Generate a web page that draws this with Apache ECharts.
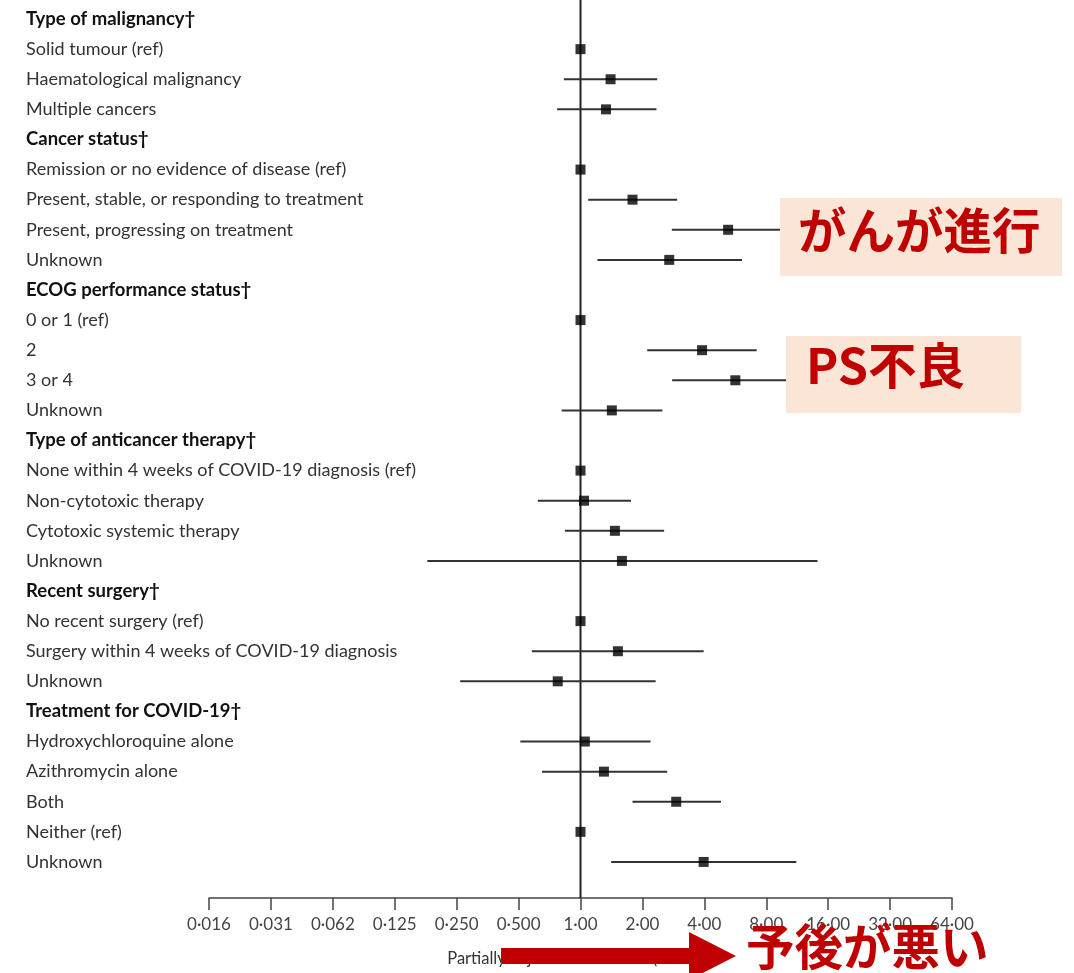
<!DOCTYPE html>
<html>
<head>
<meta charset="utf-8">
<script src="https://cdn.jsdelivr.net/npm/echarts@6/dist/echarts.min.js"></script>
<style>
  html, body { margin: 0; padding: 0; background: #fff; }
  #forest { width: 1074px; height: 973px; }
</style>
</head>
<body>
<div id="forest"></div>
<script>
// rows of the forest plot, top to bottom (headers end with †)
const rowLabels = [
    'Type of malignancy†',
    'Solid tumour (ref)',
    'Haematological malignancy',
    'Multiple cancers',
    'Cancer status†',
    'Remission or no evidence of disease (ref)',
    'Present, stable, or responding to treatment',
    'Present, progressing on treatment',
    'Unknown',
    'ECOG performance status†',
    '0 or 1 (ref)',
    '2',
    '3 or 4',
    'Unknown',
    'Type of anticancer therapy†',
    'None within 4 weeks of COVID-19 diagnosis (ref)',
    'Non-cytotoxic therapy',
    'Cytotoxic systemic therapy',
    'Unknown',
    'Recent surgery†',
    'No recent surgery (ref)',
    'Surgery within 4 weeks of COVID-19 diagnosis',
    'Unknown',
    'Treatment for COVID-19†',
    'Hydroxychloroquine alone',
    'Azithromycin alone',
    'Both',
    'Neither (ref)',
    'Unknown'
];

// partially adjusted odds ratios and 95% CI (null = header / reference)
const oddsRatio = [null, 1, 1.40, 1.33, null, 1, 1.79, 5.22, 2.70, null, 1, 3.90, 5.66, 1.42,
    null, 1, 1.04, 1.47, 1.59, null, 1, 1.52, 0.775, null, 1.05, 1.30, 2.92, 1, 3.97];
const ciLower = [null, null, 0.83, 0.77, null, null, 1.09, 2.78, 1.21, null, null, 2.11, 2.79, 0.81,
    null, null, 0.62, 0.84, 0.18, null, null, 0.58, 0.26, null, 0.51, 0.65, 1.79, null, 1.41];
const ciUpper = [null, null, 2.36, 2.34, null, null, 2.95, 9.77, 6.10, null, null, 7.19, 11.4, 2.50,
    null, null, 1.76, 2.55, 14.2, null, null, 3.97, 2.32, null, 2.19, 2.64, 4.82, null, 11.2];

const tickLabels = ['0·016', '0·031', '0·062', '0·125', '0·250', '0·500', '1·00',
    '2·00', '4·00', '8·00', '16·00', '32·00', '64·00'];
const refValue = 1;

const RED = '#c00000';
const BOX = '#fbe5d6';
const AXIS_GAP = 21;
const JP_FONT = 'bold 48.5px "Noto Sans CJK JP"';

const points = [];
const intervals = [];
rowLabels.forEach((_, i) => {
    if (oddsRatio[i] != null) points.push([oddsRatio[i], i]);
    if (ciLower[i] != null) intervals.push([ciLower[i], ciUpper[i], i]);
});

const chart = echarts.init(document.getElementById('forest'));
chart.setOption({
    backgroundColor: '#fff',
    animation: false,
    grid: { left: 209, right: 122, top: 4, bottom: 96, containLabel: false, outerBoundsMode: 'none' },
    xAxis: {
        type: 'log',
        logBase: 2,
        min: 1 / 64,
        max: 64,
        interval: 1,
        offset: AXIS_GAP,
        name: 'Partially adjusted odds ratio (95% CI)',
        nameLocation: 'middle',
        nameGap: 52,
        nameTextStyle: { color: '#333', fontFamily: 'Lato', fontSize: 16.5 },
        axisLine: { show: true, onZero: false, lineStyle: { color: '#444', width: 1.5 } },
        axisTick: { show: true, length: 12, lineStyle: { color: '#444', width: 1.5 } },
        axisLabel: {
            color: '#444',
            fontFamily: 'Lato',
            fontSize: 17,
            margin: 18,
            formatter: v => tickLabels[Math.round(Math.log2(v)) + 6] || ''
        },
        splitLine: { show: false },
        minorTick: { show: false }
    },
    yAxis: {
        type: 'category',
        inverse: true,
        data: rowLabels,
        axisLine: { show: false },
        axisTick: { show: false },
        axisLabel: {
            align: 'left',
            margin: 183,
            interval: 0,
            formatter: v => (v.endsWith('†') ? '{h|' + v + '}' : '{n|' + v + '}'),
            rich: {
                h: { color: '#111', fontFamily: 'Lato', fontSize: 18.5, fontWeight: 'bold' },
                n: { color: '#333', fontFamily: 'Lato', fontSize: 18 }
            }
        }
    },
    series: [
        {
            // vertical reference line at OR = 1, running from the top to the x axis
            type: 'custom',
            data: [[refValue, 0]],
            silent: true,
            z: 1,
            renderItem: (params, api) => {
                const x = api.coord([api.value(0), 0])[0];
                const cs = params.coordSys;
                return {
                    type: 'line',
                    shape: { x1: x, y1: 0, x2: x, y2: cs.y + cs.height + AXIS_GAP },
                    style: { stroke: '#222', lineWidth: 2 }
                };
            }
        },
        {
            type: 'custom',
            data: intervals,
            encode: { x: [0, 1], y: 2 },
            z: 2,
            renderItem: (params, api) => {
                const a = api.coord([api.value(0), api.value(2)]);
                const b = api.coord([api.value(1), api.value(2)]);
                return {
                    type: 'line',
                    shape: { x1: a[0], y1: a[1], x2: b[0], y2: b[1] },
                    style: { stroke: '#333', lineWidth: 2 }
                };
            }
        },
        {
            type: 'scatter',
            data: points,
            symbol: 'rect',
            symbolSize: 10,
            itemStyle: { color: '#000' },
            z: 3
        }
    ],
    graphic: [
        { type: 'rect', shape: { x: 780, y: 198, width: 282, height: 78 }, style: { fill: BOX }, z: 10 },
        { type: 'text', x: 798, y: 231, style: { text: 'がんが進行', fill: RED, font: JP_FONT, verticalAlign: 'middle' }, z: 11 },
        { type: 'rect', shape: { x: 786, y: 336, width: 235, height: 77 }, style: { fill: BOX }, z: 10 },
        { type: 'text', x: 806, y: 366, style: { text: 'PS不良', fill: RED, font: JP_FONT, verticalAlign: 'middle' }, z: 11 },
        {
            type: 'polygon',
            shape: { points: [[501, 948], [689, 948], [689, 932], [736, 956], [689, 980], [689, 964], [501, 964]] },
            style: { fill: RED },
            z: 10
        },
        { type: 'text', x: 746, y: 947, style: { text: '予後が悪い', fill: RED, font: JP_FONT, verticalAlign: 'middle' }, z: 11 }
    ]
});

window.addEventListener('resize', () => chart.resize());
</script>
</body>
</html>
